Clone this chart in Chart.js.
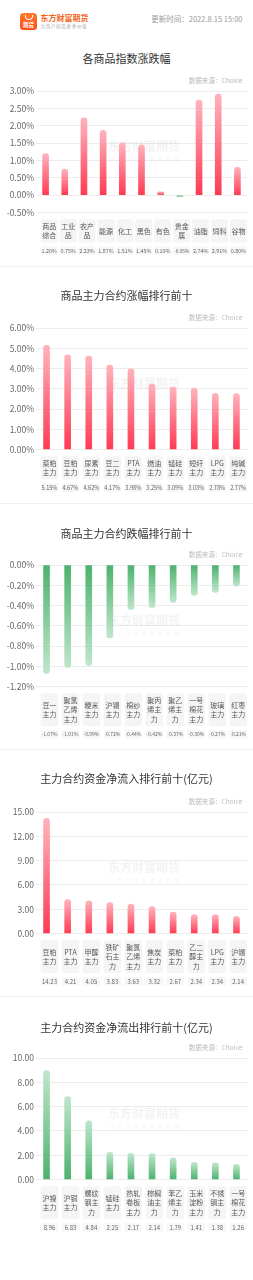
<!DOCTYPE html>
<html>
<head>
<meta charset="utf-8">
<script src="https://cdn.jsdelivr.net/npm/chart.js@4"></script>
<style>
  body { margin: 0; background: #fff; font-family: "Noto Sans CJK SC", "Noto Sans", sans-serif; }
  #page { position: relative; width: 253px; height: 1280px; overflow: hidden; }
  .abs { position: absolute; }
  .title { position: absolute; left: 0; width: 253px; text-align: center; font-size: 11px; line-height: 14px; color: #333; }
  .src { position: absolute; right: 10.5px; font-size: 6.6px; line-height: 8px; color: #bbb; white-space: nowrap; }
  .sep { position: absolute; left: 0; width: 253px; height: 1px; background: #f0f0f0; }
  canvas { position: absolute; left: 0; }
</style>
</head>
<body>
<div id="page">
  <!-- header -->
  <div class="abs" style="left:20px;top:13px;width:17px;height:17px;border-radius:3.5px;background:linear-gradient(#ff7b2c,#ff4c18);"></div>
  <div class="abs" style="left:24.5px;top:15px;width:6px;height:3.5px;border:1px solid #fff;border-top:none;border-radius:0 0 5px 5px;"></div>
  <div class="abs" style="left:20px;top:21.5px;width:17px;text-align:center;color:#fff;font-size:5.5px;line-height:7px;font-weight:700;">期货</div>
  <div class="abs" style="left:40.5px;top:12px;font-size:8px;line-height:11px;font-weight:700;color:#f26522;white-space:nowrap;">东方财富期货</div>
  <div class="abs" style="left:40.5px;top:23px;font-size:4.5px;line-height:6px;letter-spacing:0.7px;color:#aaa;white-space:nowrap;">为用户创造更多价值</div>
  <div class="abs" style="right:10.5px;top:14px;font-size:7.5px;line-height:10px;color:#999;white-space:nowrap;">更新时间：2022.8.15 15:00</div>

  <div class="title" style="top:51px">各商品指数涨跌幅</div>
  <div class="src" style="top:76px">数据来源：Choice</div>
  <canvas id="c1" width="253" height="190" style="top:83px"></canvas>
  <div class="sep" style="top:266px"></div>

  <div class="title" style="top:288px">商品主力合约涨幅排行前十</div>
  <div class="src" style="top:313px">数据来源：Choice</div>
  <canvas id="c2" width="253" height="190" style="top:320px"></canvas>
  <div class="sep" style="top:503px"></div>

  <div class="title" style="top:526px">商品主力合约跌幅排行前十</div>
  <div class="src" style="top:550px">数据来源：Choice</div>
  <canvas id="c3" width="253" height="190" style="top:557px"></canvas>
  <div class="sep" style="top:749px"></div>

  <div class="title" style="top:771px">主力合约资金净流入排行前十(亿元)</div>
  <div class="src" style="top:797px">数据来源：Choice</div>
  <canvas id="c4" width="253" height="190" style="top:804px"></canvas>
  <div class="sep" style="top:996px"></div>

  <div class="title" style="top:1020px">主力合约资金净流出排行前十(亿元)</div>
  <div class="src" style="top:1043px">数据来源：Choice</div>
  <canvas id="c5" width="253" height="190" style="top:1050px"></canvas>
</div>

<script>
// 各商品指数涨跌幅 (%)
const indexLabels = ["商品综合", "工业品", "农产品", "能源", "化工", "黑色", "有色", "贵金属", "油脂", "饲料", "谷物"];
const indexValues = [1.20, 0.75, 2.23, 1.87, 1.51, 1.45, 0.10, -0.05, 2.74, 2.91, 0.80];

// 涨幅排行前十 (%)
const gainLabels = ["菜粕主力", "豆粕主力", "尿素主力", "豆二主力", "PTA主力", "燃油主力", "锰硅主力", "短纤主力", "LPG主力", "纯碱主力"];
const gainValues = [5.15, 4.67, 4.62, 4.17, 3.98, 3.25, 3.09, 3.03, 2.78, 2.77];

// 跌幅排行前十 (%)
const lossLabels = ["豆一主力", "聚氯乙烯主力", "粳米主力", "沪锡主力", "棉纱主力", "聚丙烯主力", "聚乙烯主力", "一号棉花主力", "玻璃主力", "红枣主力"];
const lossValues = [-1.07, -1.01, -0.99, -0.72, -0.44, -0.42, -0.37, -0.30, -0.27, -0.21];

// 资金净流入 (亿元)
const inflowLabels = ["豆粕主力", "PTA主力", "甲醇主力", "铁矿石主力", "聚氯乙烯主力", "焦炭主力", "菜粕主力", "乙二醇主力", "LPG主力", "沪锡主力"];
const inflowValues = [14.23, 4.21, 4.05, 3.83, 3.63, 3.32, 2.67, 2.34, 2.34, 2.14];

// 资金净流出 (亿元)
const outflowLabels = ["沪镍主力", "沪铜主力", "螺纹钢主力", "锰硅主力", "热轧卷板主力", "棕榈油主力", "苯乙烯主力", "玉米淀粉主力", "不锈钢主力", "一号棉花主力"];
const outflowValues = [8.96, 6.83, 4.84, 2.25, 2.17, 2.14, 1.79, 1.41, 1.38, 1.26];

// y axis ranges [min, max, step]
const indexAxis = [-0.5, 3, 0.5];
const gainAxis = [0, 6, 1];
const lossAxis = [-1.2, 0, 0.2];
const inflowAxis = [0, 15, 3];
const outflowAxis = [0, 10, 2];

const FONT = '"Noto Sans CJK SC", "Noto Sans", sans-serif';
Chart.defaults.font.family = FONT;

function barFill(c, scheme) {
  const chart = c.chart;
  const v = c.raw;
  const green = scheme === "green" || (scheme === "sign" && v < 0);
  if (!chart.chartArea || v === undefined) return green ? "#5bb97a" : "#ff4d63";
  const y = chart.scales.y;
  const y0 = y.getPixelForValue(0);
  let y1 = y.getPixelForValue(v);
  if (Math.abs(y1 - y0) < 1) y1 = y0 + (v < 0 ? 1 : -1);
  const g = chart.ctx.createLinearGradient(0, y0, 0, y1);
  g.addColorStop(0, green ? "#4cb26c" : "#ff3a53");
  g.addColorStop(1, green ? "#bfe6cc" : "#ffb3bd");
  return g;
}

function wrapText(ctx, text, maxW) {
  const lines = [];
  let cur = "";
  for (const ch of text) {
    if (cur && ctx.measureText(cur + ch).width > maxW) {
      lines.push(cur);
      cur = ch;
    } else {
      cur += ch;
    }
  }
  if (cur) lines.push(cur);
  return lines;
}

const watermark = {
  id: "watermark",
  beforeDatasetsDraw(chart) {
    const { ctx, chartArea } = chart;
    const cx = (chartArea.left + chartArea.right) / 2 + 2.5;
    const cy = (chartArea.top + chartArea.bottom) / 2;
    ctx.save();
    ctx.fillStyle = "rgba(0,0,0,0.05)";
    ctx.textAlign = "center";
    ctx.textBaseline = "middle";
    ctx.font = "bold 12px " + FONT;
    ctx.fillText("东方财富期货", cx, cy - 5.5);
    ctx.font = "4.8px " + FONT;
    const sub = "为用户创造更多价值";
    [...sub].forEach((ch, i) => ctx.fillText(ch, cx + (i - 4) * 8.2, cy + 7.5));
    ctx.restore();
  }
};

// category boxes and value boxes under the plot
const labelRows = {
  id: "labelRows",
  afterDraw(chart, args, opts) {
    const { ctx, chartArea } = chart;
    const labels = chart.data.labels;
    const vals = chart.data.datasets[0].data;
    const n = labels.length;
    const w = n > 10 ? 17 : 17.6;
    const L = chartArea.left + 4.7;
    const R = chartArea.right;
    const step = (R - L - w) / (n - 1);
    ctx.save();
    ctx.font = "7px " + FONT;
    const wrapped = labels.map(t => wrapText(ctx, t, 15));
    const lines = Math.max(...wrapped.map(l => l.length));
    const lh = 9.4;
    const boxTop = chartArea.bottom + 6.7;
    const boxH = lines * lh + 4.5;
    const valTop = boxTop + boxH + 4;
    const valH = 8.5;
    ctx.textAlign = "center";
    ctx.textBaseline = "middle";
    for (let i = 0; i < n; i++) {
      const x = L + i * step;
      ctx.fillStyle = "#f5f5f5";
      ctx.beginPath();
      ctx.roundRect(x, boxTop, w, boxH, 2);
      ctx.fill();
      ctx.fillStyle = "#555";
      ctx.font = "7px " + FONT;
      const ls = wrapped[i];
      const y0 = boxTop + boxH / 2 - (ls.length - 1) * lh / 2;
      ls.forEach((s, k) => ctx.fillText(s, x + w / 2, y0 + k * lh));

      ctx.fillStyle = "#f7f7f7";
      ctx.beginPath();
      ctx.roundRect(x, valTop, w, valH, 1.5);
      ctx.fill();
      const txt = vals[i].toFixed(2) + opts.unit;
      let size = 6;
      ctx.font = size + "px " + FONT;
      const tw = ctx.measureText(txt).width;
      if (tw > w - 1.5) {
        size = size * (w - 1.5) / tw;
        ctx.font = size + "px " + FONT;
      }
      ctx.fillStyle = "#666";
      ctx.fillText(txt, x + w / 2, valTop + valH / 2);
    }
    ctx.restore();
  }
};

function makeChart(id, labels, values, scheme, axis, unit) {
  return new Chart(document.getElementById(id), {
    type: "bar",
    data: {
      labels: labels,
      datasets: [{
        data: values,
        barThickness: 6,
        borderRadius: 3,
        borderSkipped: "start",
        backgroundColor: c => barFill(c, scheme)
      }]
    },
    options: {
      responsive: false,
      animation: false,
      layout: { padding: { top: 8, right: 6, bottom: 60.4, left: 0 } },
      plugins: {
        legend: { display: false },
        tooltip: { enabled: false },
        labelRows: { unit: unit }
      },
      scales: {
        x: { display: false },
        y: {
          min: axis[0],
          max: axis[1],
          border: { display: false },
          grid: { color: "#ececec", drawTicks: false },
          ticks: {
            stepSize: axis[2],
            padding: 2,
            color: "#666",
            font: { size: 8.5 },
            callback: v => (Math.abs(v) < 1e-9 ? 0 : v).toFixed(2) + unit
          },
          afterFit: scale => { scale.width = 36; }
        }
      }
    },
    plugins: [watermark, labelRows]
  });
}

makeChart("c1", indexLabels, indexValues, "sign", indexAxis, "%");
makeChart("c2", gainLabels, gainValues, "red", gainAxis, "%");
makeChart("c3", lossLabels, lossValues, "green", lossAxis, "%");
makeChart("c4", inflowLabels, inflowValues, "red", inflowAxis, "");
makeChart("c5", outflowLabels, outflowValues, "green", outflowAxis, "");
</script>
</body>
</html>
